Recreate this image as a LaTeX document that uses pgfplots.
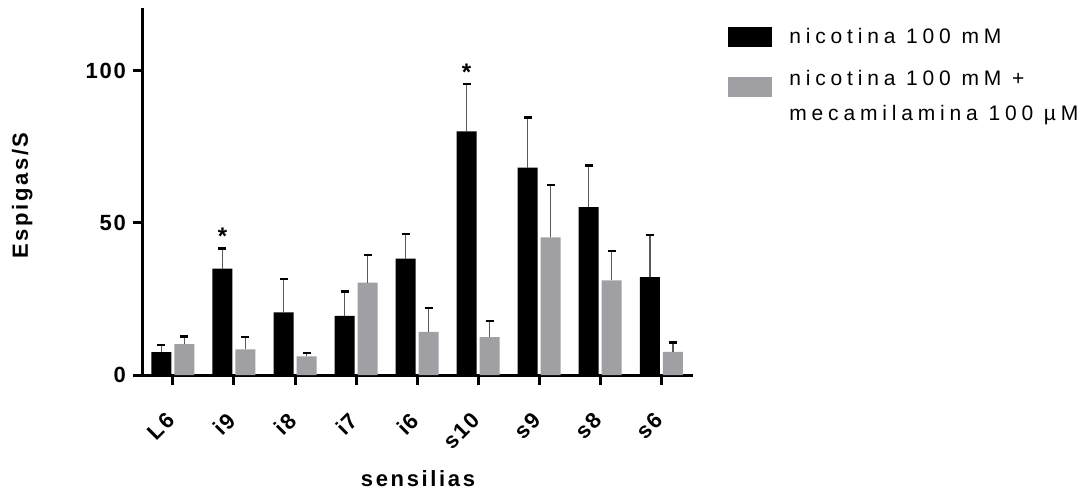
\documentclass[border=0pt]{standalone}
\usepackage{fontspec}
\setmainfont{Liberation Sans}
\newfontfamily\tickfont[LetterSpace=8]{Liberation Sans Bold}
\newfontfamily\labfont[LetterSpace=12]{Liberation Sans Bold}
\newfontfamily\legfont[LetterSpace=23]{Liberation Sans}
\usepackage{pgfplots}
\usepackage{pgfplotstable}
\pgfplotsset{compat=1.18}
\definecolor{bargray}{RGB}{160,160,164}
\definecolor{errgray}{RGB}{90,90,90}
\pgfplotstableread{
x b be g ge
0 7.5 2.3 10.1 2.5
1 34.9 6.6 8.4 4.1
2 20.6 11.0 6.1 1.2
3 19.4 8.0 30.3 9.2
4 38.2 8.0 14.2 7.8
5 80.0 15.5 12.4 5.3
6 68.1 16.4 45.2 17.2
7 55.1 13.7 31.1 9.6
8 32.1 13.8 7.6 3.1
}\data
\begin{document}
\begin{tikzpicture}
\useasboundingbox (-71.5pt,-56.5pt) rectangle (473.5pt,187.5pt);
\begin{axis}[
  scale only axis, width=275pt, height=183.5pt,
  at={(0,0)}, anchor=south west,
  ybar=1.5pt, bar width=10pt,
  xmin=-0.49, xmax=8.52, ymin=0, ymax=120.5,
  axis x line*=bottom, axis y line*=left,
  axis line style={line width=1.5pt,-},
  xtick={0,...,8}, xticklabels={L6,i9,i8,i7,i6,s10,s9,s8,s6},
  ytick={0,50,100},
  tick align=outside, major tick length=5pt,
  tick style={line width=1.5pt,black},
  /pgf/number format/assume math mode=true,
  yticklabel style={font=\tickfont\fontsize{11}{13}\selectfont},
  xticklabel style={font=\tickfont\fontsize{11}{13}\selectfont, rotate=45, anchor=north east, inner sep=0pt, yshift=-6.3pt, xshift=-12pt},
  xlabel={sensilias},
  xlabel style={font=\labfont\fontsize{11}{13}\selectfont, at={([yshift=-55.5pt]axis description cs:0.5,0)}, anchor=base, inner sep=0pt},
  ylabel={Espigas/S},
  ylabel style={font=\labfont\fontsize{11}{13}\selectfont, at={([xshift=-55pt,yshift=-2pt]axis description cs:0,0.5)}, rotate=0, anchor=south, inner sep=0pt},
  legend cell align=left,
  legend image code/.code={\fill (0pt,-5pt) rectangle (22pt,5pt);},
  legend style={draw=none, fill=none, at={(rel axis cs:1.0636,0.958)}, anchor=north west, inner sep=0pt, row sep=7pt,
    font=\legfont\fontsize{10.5}{12.6}\selectfont,
    /tikz/every odd column/.append style={column sep=6.5pt}},
]
\addplot[fill=black, draw=none,
  error bars/.cd, y dir=plus, y explicit, error mark=|,
  error bar style={line width=0.75pt, errgray},
  error mark options={line width=1.2pt, black, mark size=2pt}]
  table[x=x, y=b, y error=be]{\data};
\addlegendentry{nicotina 100 mM}
\addplot[fill=bargray, draw=none,
  error bars/.cd, y dir=plus, y explicit, error mark=|,
  error bar style={line width=0.75pt, errgray},
  error mark options={line width=1.2pt, black, mark size=2pt}]
  table[x=x, y=g, y error=ge]{\data};
\addlegendentry{\begin{tabular}{@{}l@{}}nicotina 100 mM +\\[5pt]mecamilamina 100 µM\end{tabular}}
\draw[line width=1.5pt] ([xshift=-5pt]rel axis cs:0,0) -- (rel axis cs:0,0);
\node[font=\bfseries\fontsize{12}{14}\selectfont, anchor=base] at ([xshift=-5.75pt,yshift=-6.7pt]axis cs:1,47.3) {*};
\node[font=\bfseries\fontsize{12}{14}\selectfont, anchor=base] at ([xshift=-5.75pt,yshift=-6.7pt]axis cs:5,101) {*};
\end{axis}
\end{tikzpicture}
\end{document}
